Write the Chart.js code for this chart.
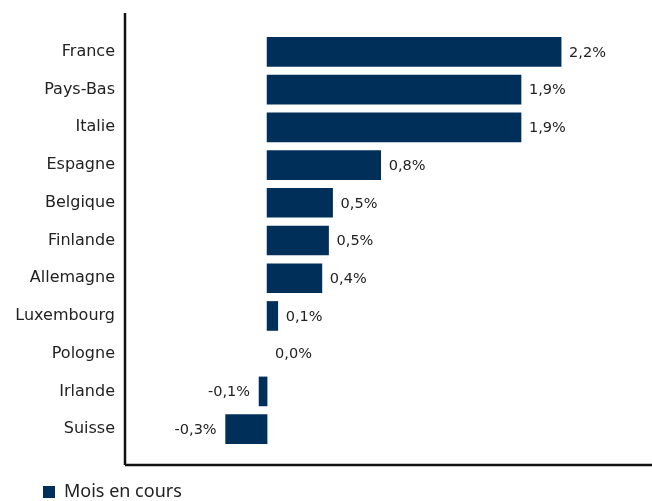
<!DOCTYPE html>
<html>
<head>
<meta charset="utf-8">
<script src="https://cdn.jsdelivr.net/npm/chart.js@4"></script>
<style>
  html, body { margin: 0; padding: 0; background: #ffffff; }
  #wrap { width: 652px; height: 501px; position: relative; }
</style>
</head>
<body>
<div id="wrap"><canvas id="c"></canvas></div>
<script>
const categories = ['France', 'Pays-Bas', 'Italie', 'Espagne', 'Belgique', 'Finlande', 'Allemagne', 'Luxembourg', 'Pologne', 'Irlande', 'Suisse'];
const values = [2.2, 1.9, 1.9, 0.85, 0.49, 0.46, 0.41, 0.08, 0.0, -0.06, -0.31];
const valueLabels = ['2,2%', '1,9%', '1,9%', '0,8%', '0,5%', '0,5%', '0,4%', '0,1%', '0,0%', '-0,1%', '-0,3%'];
const seriesName = 'Mois en cours';

const BAR_COLOR = '#00305a';
const TEXT_COLOR = '#222222';
const LABEL_FONT = '"DejaVu Sans", sans-serif';

const axisLinesPlugin = {
  id: 'axisLines',
  afterDraw(chart) {
    const { ctx, chartArea } = chart;
    ctx.save();
    ctx.strokeStyle = '#111111';
    ctx.lineWidth = 2.5;
    const top = chartArea.top - 20;
    const bottom = chartArea.bottom + 17;
    ctx.beginPath();
    ctx.moveTo(chartArea.left, top);
    ctx.lineTo(chartArea.left, bottom);
    ctx.moveTo(chartArea.left, bottom);
    ctx.lineTo(chartArea.right, bottom);
    ctx.stroke();
    ctx.restore();
  }
};

const legendShiftPlugin = {
  id: 'legendShift',
  afterLayout(chart) {
    if (chart.legend) {
      chart.legend.left += 33;
    }
  }
};

const valueLabelPlugin = {
  id: 'valueLabels',
  afterDatasetsDraw(chart) {
    const { ctx } = chart;
    const meta = chart.getDatasetMeta(0);
    ctx.save();
    ctx.font = '14.5px ' + LABEL_FONT;
    ctx.fillStyle = TEXT_COLOR;
    ctx.textBaseline = 'middle';
    meta.data.forEach((bar, i) => {
      const v = values[i];
      if (v < 0) {
        ctx.textAlign = 'right';
        ctx.fillText(valueLabels[i], Math.min(bar.x, bar.base) - 9, bar.y + 1);
      } else {
        ctx.textAlign = 'left';
        ctx.fillText(valueLabels[i], Math.max(bar.x, bar.base) + 8, bar.y + 1);
      }
    });
    ctx.restore();
  }
};

new Chart(document.getElementById('c'), {
  type: 'bar',
  data: {
    labels: categories,
    datasets: [{
      label: seriesName,
      data: values,
      backgroundColor: (c) => (values[c.dataIndex] === 0 ? 'rgba(0,0,0,0)' : BAR_COLOR),
      borderWidth: 0,
      barThickness: 29
    }]
  },
  options: {
    indexAxis: 'y',
    responsive: true,
    maintainAspectRatio: false,
    animation: false,
    devicePixelRatio: 1,
    layout: { padding: { top: 33, right: 0, bottom: -10, left: 0 } },
    scales: {
      x: {
        type: 'linear',
        min: -1.063,
        max: 2.88,
        grid: { display: false },
        border: { display: false },
        ticks: { display: false },
        afterFit(scale) { scale.height = 25; }
      },
      y: {
        type: 'category',
        grid: { display: false },
        border: { display: false },
        ticks: {
          color: TEXT_COLOR,
          font: { family: LABEL_FONT, size: 16 },
          padding: 2
        },
        afterFit(scale) { scale.width = 125; }
      }
    },
    plugins: {
      legend: {
        display: true,
        position: 'bottom',
        align: 'start',
        labels: {
          boxWidth: 12,
          boxHeight: 12,
          color: TEXT_COLOR,
          font: { family: '"Noto Sans", sans-serif', size: 18 },
          padding: 10
        }
      },
      tooltip: { enabled: false }
    }
  },
  plugins: [axisLinesPlugin, valueLabelPlugin, legendShiftPlugin]
});
</script>
</body>
</html>
